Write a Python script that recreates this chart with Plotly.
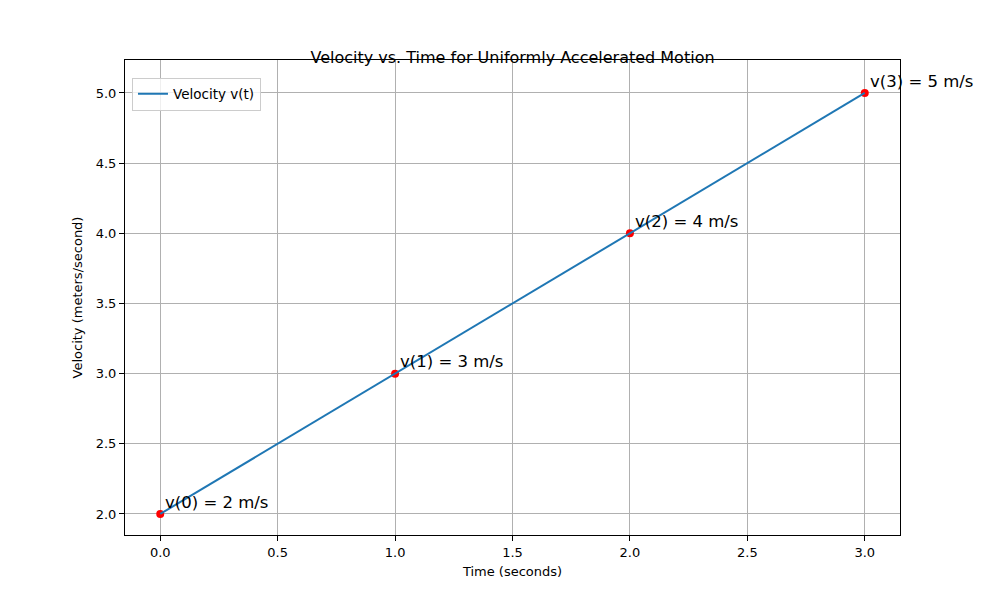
import plotly.graph_objects as go

times = [0, 1, 2, 3]
velocities = [2, 3, 4, 5]
labels = ["v(0) = 2 m/s", "v(1) = 3 m/s", "v(2) = 4 m/s", "v(3) = 5 m/s"]

fig = go.Figure()
fig.add_trace(go.Scatter(x=times, y=velocities, mode="markers",
                         marker=dict(color="red", size=8), showlegend=False))
fig.add_trace(go.Scatter(x=times, y=velocities, mode="lines", name="Velocity v(t)",
                         line=dict(color="#1f77b4", width=2)))

for t, v, lab in zip(times, velocities, labels):
    fig.add_annotation(x=t + 0.012, y=v + 0.085, text=lab, showarrow=False,
                       xanchor="left", yanchor="middle",
                       font=dict(size=16.5, color="black"))

axis_common = dict(showline=True, linecolor="black", linewidth=1, mirror=True,
                   ticks="outside", ticklen=5, tickcolor="black",
                   showgrid=True, gridcolor="#b0b0b0", gridwidth=1, zeroline=False,
                   tickfont=dict(size=13, color="black"))

fig.update_layout(
    width=1000, height=600,
    margin=dict(l=117, r=108, t=52, b=73),
    paper_bgcolor="white", plot_bgcolor="white",
    font=dict(family="DejaVu Sans", color="black"),
    title=dict(text="Velocity vs. Time for Uniformly Accelerated Motion", x=0.5045,
               xanchor="center", y=0.917, yanchor="middle", font=dict(size=16)),
    xaxis=dict(range=[-0.15, 3.15], tickvals=[0, 0.5, 1, 1.5, 2, 2.5, 3],
               ticktext=["0.0", "0.5", "1.0", "1.5", "2.0", "2.5", "3.0"],
               title=dict(text="Time (seconds)", font=dict(size=13), standoff=8),
               **axis_common),
    yaxis=dict(range=[1.85, 5.235], tickvals=[2, 2.5, 3, 3.5, 4, 4.5, 5],
               ticktext=["2.0", "2.5", "3.0", "3.5", "4.0", "4.5", "5.0"],
               title=dict(text="Velocity (meters/second)", font=dict(size=13), standoff=10),
               **axis_common),
    legend=dict(x=0.009, y=0.963, xanchor="left", yanchor="top",
                bordercolor="#cccccc", borderwidth=1, bgcolor="rgba(255,255,255,0.8)",
                font=dict(size=13.5)),
)

fig.write_html("out.html")
